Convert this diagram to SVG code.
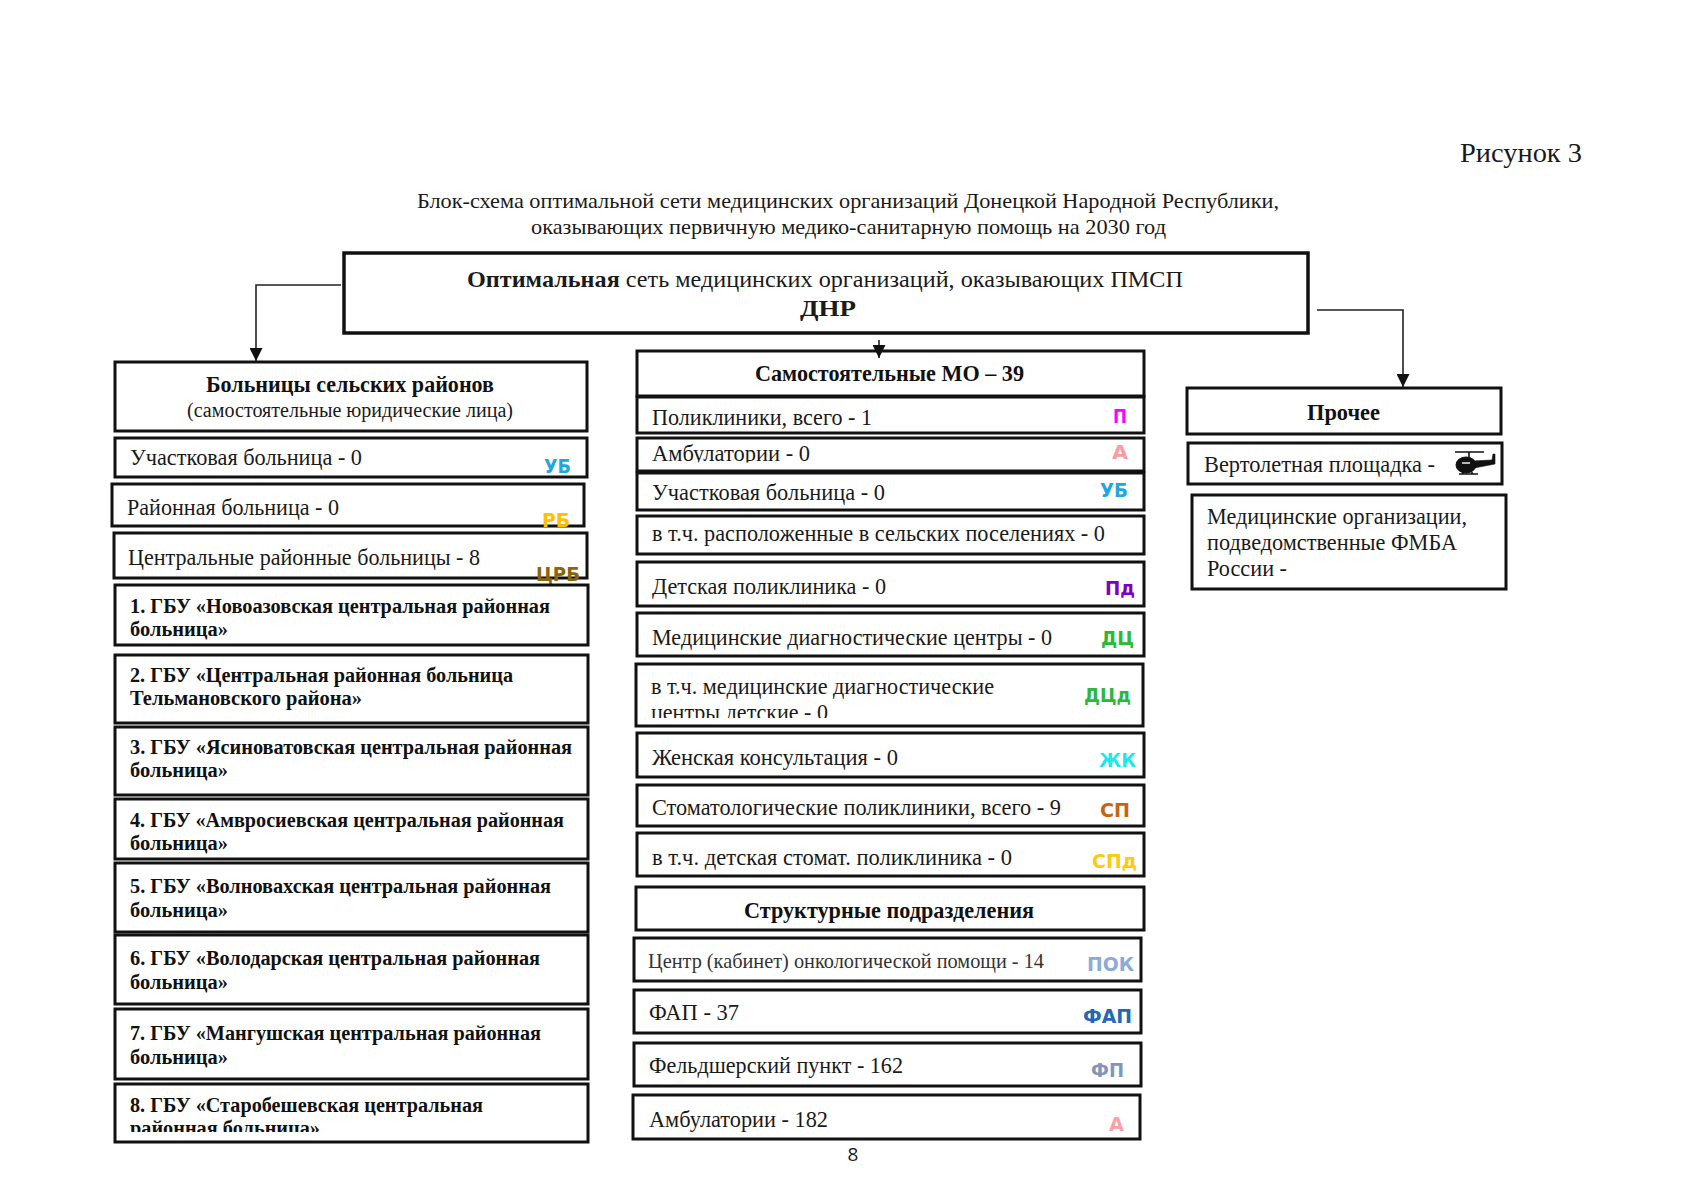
<svg xmlns="http://www.w3.org/2000/svg" width="1697" height="1200" viewBox="0 0 1697 1200">
<style>
text{font-family:"Liberation Serif","Times New Roman",serif;fill:#1a1a1a}
.b{fill:#fff;stroke:#111;stroke-width:3}
.t{font-size:22.5px}
.s{font-size:20.5px;font-weight:700;fill:#111}
.h{font-size:22.5px;font-weight:700;fill:#111}
.g{font-family:"DejaVu Sans",sans-serif;font-size:19px;font-weight:700}
.c{fill:none;stroke:#222;stroke-width:1.6}
</style>
<defs>
<marker id="ar" markerUnits="userSpaceOnUse" markerWidth="14" markerHeight="13" refX="13" refY="6.5" orient="auto"><path d="M0 0L13 6.5L0 13Z" fill="#111"/></marker>
<clipPath id="c1"><rect x="640" y="440" width="500" height="22.5"/></clipPath>
<clipPath id="c2"><rect x="640" y="695" width="500" height="23"/></clipPath>
<clipPath id="c3"><rect x="118" y="1110" width="460" height="22"/></clipPath>
</defs>
<g id="header">
<text x="1460" y="162" font-size="27" textLength="122" lengthAdjust="spacingAndGlyphs">Рисунок 3</text>
<text x="417" y="208" font-size="22" textLength="862" lengthAdjust="spacingAndGlyphs">Блок-схема оптимальной сети медицинских организаций Донецкой Народной Республики,</text>
<text x="531" y="234" font-size="22" textLength="635" lengthAdjust="spacingAndGlyphs">оказывающих первичную медико-санитарную помощь на 2030 год</text>
</g>
<g id="root"><rect class="b" x="344" y="253" width="964" height="80" style="stroke-width:3.5"/>
<text x="467" y="287" font-size="24" textLength="716" lengthAdjust="spacingAndGlyphs"><tspan font-weight="700">Оптимальная</tspan> сеть медицинских организаций, оказывающих ПМСП</text>
<text x="800" y="316" font-size="24" font-weight="700" textLength="56" lengthAdjust="spacingAndGlyphs">ДНР</text></g>

<g id="rural-header"><rect class="b" x="115" y="362" width="472" height="69"/>
<text class="h" x="206" y="392" textLength="288" lengthAdjust="spacingAndGlyphs">Больницы сельских районов</text>
<text x="187" y="417" font-size="20" textLength="326" lengthAdjust="spacingAndGlyphs">(самостоятельные юридические лица)</text></g>
<g id="rural-ub"><rect class="b" x="115" y="438" width="472" height="39"/>
<text class="t" x="130" y="465" textLength="232" lengthAdjust="spacingAndGlyphs">Участковая больница - 0</text>
<text class="g" x="544" y="473" fill="#1ea7e0" style="fill:#1ea7e0" textLength="27" lengthAdjust="spacingAndGlyphs">УБ</text></g>
<g id="rural-rb"><rect class="b" x="112" y="484" width="472" height="42"/>
<text class="t" x="127" y="515" textLength="212" lengthAdjust="spacingAndGlyphs">Районная больница - 0</text>
<text class="g" x="542" y="527" style="fill:#ffc000" textLength="28" lengthAdjust="spacingAndGlyphs">РБ</text></g>
<g id="rural-crb"><rect class="b" x="114" y="533" width="473" height="45"/>
<text class="t" x="128" y="565" textLength="352" lengthAdjust="spacingAndGlyphs">Центральные районные больницы - 8</text>
<text class="g" x="536" y="581" style="fill:#8b6508" textLength="44" lengthAdjust="spacingAndGlyphs">ЦРБ</text></g>
<g id="crb-1"><rect class="b" x="115" y="585" width="473" height="60"/>
<text class="s" x="130" y="613" textLength="420" lengthAdjust="spacingAndGlyphs">1. ГБУ «Новоазовская центральная районная</text>
<text class="s" x="130" y="636" textLength="98" lengthAdjust="spacingAndGlyphs">больница»</text></g>
<g id="crb-2"><rect class="b" x="115" y="655" width="473" height="68"/>
<text class="s" x="130" y="682" textLength="383" lengthAdjust="spacingAndGlyphs">2. ГБУ «Центральная районная больница</text>
<text class="s" x="130" y="705" textLength="232" lengthAdjust="spacingAndGlyphs">Тельмановского района»</text></g>
<g id="crb-3"><rect class="b" x="115" y="727" width="473" height="68"/>
<text class="s" x="130" y="754" textLength="442" lengthAdjust="spacingAndGlyphs">3. ГБУ «Ясиноватовская центральная районная</text>
<text class="s" x="130" y="777" textLength="98" lengthAdjust="spacingAndGlyphs">больница»</text></g>
<g id="crb-4"><rect class="b" x="115" y="799" width="473" height="60"/>
<text class="s" x="130" y="827" textLength="434" lengthAdjust="spacingAndGlyphs">4. ГБУ «Амвросиевская центральная районная</text>
<text class="s" x="130" y="850" textLength="98" lengthAdjust="spacingAndGlyphs">больница»</text></g>
<g id="crb-5"><rect class="b" x="115" y="863" width="473" height="69"/>
<text class="s" x="130" y="893" textLength="421" lengthAdjust="spacingAndGlyphs">5. ГБУ «Волновахская центральная районная</text>
<text class="s" x="130" y="917" textLength="98" lengthAdjust="spacingAndGlyphs">больница»</text></g>
<g id="crb-6"><rect class="b" x="115" y="935" width="473" height="69"/>
<text class="s" x="130" y="965" textLength="410" lengthAdjust="spacingAndGlyphs">6. ГБУ «Володарская центральная районная</text>
<text class="s" x="130" y="989" textLength="98" lengthAdjust="spacingAndGlyphs">больница»</text></g>
<g id="crb-7"><rect class="b" x="115" y="1009" width="473" height="70"/>
<text class="s" x="130" y="1040" textLength="411" lengthAdjust="spacingAndGlyphs">7. ГБУ «Мангушская центральная районная</text>
<text class="s" x="130" y="1064" textLength="98" lengthAdjust="spacingAndGlyphs">больница»</text></g>
<g id="crb-8"><rect class="b" x="115" y="1084" width="473" height="58"/>
<text class="s" x="130" y="1112" textLength="353" lengthAdjust="spacingAndGlyphs">8. ГБУ «Старобешевская центральная</text>
<text class="s" x="130" y="1135" clip-path="url(#c3)" textLength="190" lengthAdjust="spacingAndGlyphs">районная больница»</text></g>

<g id="mo-header"><rect class="b" x="637" y="351" width="507" height="45"/>
<text class="h" x="755" y="381" textLength="269" lengthAdjust="spacingAndGlyphs">Самостоятельные МО – 39</text></g>
<g id="mo-p"><rect class="b" x="637" y="397" width="507" height="36"/>
<text class="t" x="652" y="425" textLength="220" lengthAdjust="spacingAndGlyphs">Поликлиники, всего - 1</text>
<text class="g" x="1113" y="423" style="fill:#ff00ff" textLength="14" lengthAdjust="spacingAndGlyphs">П</text></g>
<g id="mo-a"><rect class="b" x="637" y="438" width="507" height="33"/>
<text class="t" x="652" y="461" clip-path="url(#c1)" textLength="158" lengthAdjust="spacingAndGlyphs">Амбулатории - 0</text>
<text class="g" x="1112" y="459" style="fill:#ff9aa2" textLength="16" lengthAdjust="spacingAndGlyphs">А</text></g>
<g id="mo-ub"><rect class="b" x="637" y="473" width="507" height="37"/>
<text class="t" x="652" y="500" textLength="233" lengthAdjust="spacingAndGlyphs">Участковая больница - 0</text>
<text class="g" x="1100" y="497" style="fill:#1ea7e0" textLength="28" lengthAdjust="spacingAndGlyphs">УБ</text></g>
<g id="mo-ub-rural"><rect class="b" x="637" y="516" width="507" height="38"/>
<text class="t" x="652" y="541" textLength="453" lengthAdjust="spacingAndGlyphs">в т.ч. расположенные в сельских поселениях - 0</text></g>
<g id="mo-pd"><rect class="b" x="637" y="562" width="507" height="44"/>
<text class="t" x="652" y="594" textLength="234" lengthAdjust="spacingAndGlyphs">Детская поликлиника - 0</text>
<text class="g" x="1105" y="595" style="fill:#8000c0" textLength="30" lengthAdjust="spacingAndGlyphs">Пд</text></g>
<g id="mo-dc"><rect class="b" x="637" y="613" width="507" height="43"/>
<text class="t" x="652" y="645" textLength="400" lengthAdjust="spacingAndGlyphs">Медицинские диагностические центры - 0</text>
<text class="g" x="1101" y="645" style="fill:#2cb83c" textLength="33" lengthAdjust="spacingAndGlyphs">ДЦ</text></g>
<g id="mo-dcd"><rect class="b" x="636" y="664" width="507" height="62"/>
<text class="t" x="651" y="694" textLength="343" lengthAdjust="spacingAndGlyphs">в т.ч. медицинские диагностические</text>
<text class="t" x="651" y="720" clip-path="url(#c2)" textLength="177" lengthAdjust="spacingAndGlyphs">центры детские - 0</text>
<text class="g" x="1084" y="702" style="fill:#2cb83c" textLength="47" lengthAdjust="spacingAndGlyphs">ДЦд</text></g>
<g id="mo-zk"><rect class="b" x="637" y="733" width="507" height="44"/>
<text class="t" x="652" y="765" textLength="246" lengthAdjust="spacingAndGlyphs">Женская консультация - 0</text>
<text class="g" x="1099" y="767" style="fill:#1de9e9" textLength="37" lengthAdjust="spacingAndGlyphs">ЖК</text></g>
<g id="mo-sp"><rect class="b" x="637" y="785" width="507" height="41"/>
<text class="t" x="652" y="815" textLength="409" lengthAdjust="spacingAndGlyphs">Стоматологические поликлиники, всего - 9</text>
<text class="g" x="1100" y="817" style="fill:#c8640f" textLength="30" lengthAdjust="spacingAndGlyphs">СП</text></g>
<g id="mo-spd"><rect class="b" x="637" y="833" width="507" height="43"/>
<text class="t" x="652" y="865" textLength="360" lengthAdjust="spacingAndGlyphs">в т.ч. детская стомат. поликлиника - 0</text>
<text class="g" x="1092" y="868" style="fill:#ffc90e" textLength="45" lengthAdjust="spacingAndGlyphs">СПд</text></g>
<g id="struct-header"><rect class="b" x="636" y="887" width="508" height="43"/>
<text class="h" x="744" y="918" textLength="290" lengthAdjust="spacingAndGlyphs">Структурные подразделения</text></g>
<g id="st-pok"><rect class="b" x="634" y="938" width="507" height="43"/>
<text x="648" y="968" font-size="21" style="fill:#333" textLength="396" lengthAdjust="spacingAndGlyphs">Центр (кабинет) онкологической помощи - 14</text>
<text class="g" x="1087" y="971" style="fill:#8eaadb" textLength="47" lengthAdjust="spacingAndGlyphs">ПОК</text></g>
<g id="st-fap"><rect class="b" x="634" y="990" width="507" height="43"/>
<text class="t" x="649" y="1020" textLength="90" lengthAdjust="spacingAndGlyphs">ФАП - 37</text>
<text class="g" x="1083" y="1023" style="fill:#2468b4" textLength="49" lengthAdjust="spacingAndGlyphs">ФАП</text></g>
<g id="st-fp"><rect class="b" x="634" y="1043" width="507" height="43"/>
<text class="t" x="649" y="1073" textLength="254" lengthAdjust="spacingAndGlyphs">Фельдшерский пункт - 162</text>
<text class="g" x="1091" y="1077" style="fill:#8496b8" textLength="33" lengthAdjust="spacingAndGlyphs">ФП</text></g>
<g id="st-a"><rect class="b" x="633" y="1095" width="507" height="44"/>
<text class="t" x="649" y="1127" textLength="179" lengthAdjust="spacingAndGlyphs">Амбулатории - 182</text>
<text class="g" x="1109" y="1131" style="fill:#ffa0a8" textLength="15" lengthAdjust="spacingAndGlyphs">А</text></g>

<g id="other-header"><rect class="b" x="1187" y="388" width="314" height="46"/>
<text class="h" x="1307" y="420" textLength="73" lengthAdjust="spacingAndGlyphs">Прочее</text></g>
<g id="other-heli"><rect class="b" x="1188" y="443" width="314" height="41"/>
<text class="t" x="1204" y="472" textLength="231" lengthAdjust="spacingAndGlyphs">Вертолетная площадка -</text>
<g id="heli-icon" fill="#111" stroke="#111">
<path d="M1455 452H1484M1469 452V457" fill="none" stroke-width="1.6"/>
<ellipse cx="1466" cy="465" rx="10" ry="8"/>
<path d="M1472 461L1492 460L1493 454L1495 454L1495 464L1474 468Z" stroke-width="0.6"/>
<path d="M1459 474H1478M1463 472V474M1472 472V474" fill="none" stroke-width="1.6"/>
<path d="M1462 463H1470" stroke="#fff" stroke-width="1.4" fill="none"/>
</g></g>
<g id="other-fmba"><rect class="b" x="1192" y="495" width="314" height="94"/>
<text class="t" x="1207" y="524" textLength="260" lengthAdjust="spacingAndGlyphs">Медицинские организации,</text>
<text class="t" x="1207" y="550" textLength="250" lengthAdjust="spacingAndGlyphs">подведомственные ФМБА</text>
<text class="t" x="1207" y="576" textLength="80" lengthAdjust="spacingAndGlyphs">России -</text></g>

<g id="connectors">
<path class="c" d="M341 285H256V361" marker-end="url(#ar)"/>
<path class="c" d="M1317 310H1403V387" marker-end="url(#ar)"/>
<path class="c" d="M879 340V358" marker-end="url(#ar)"/>
</g>
<text x="853" y="1161" font-size="19" text-anchor="middle" style="font-family:'Open Sans',sans-serif">8</text>
</svg>
